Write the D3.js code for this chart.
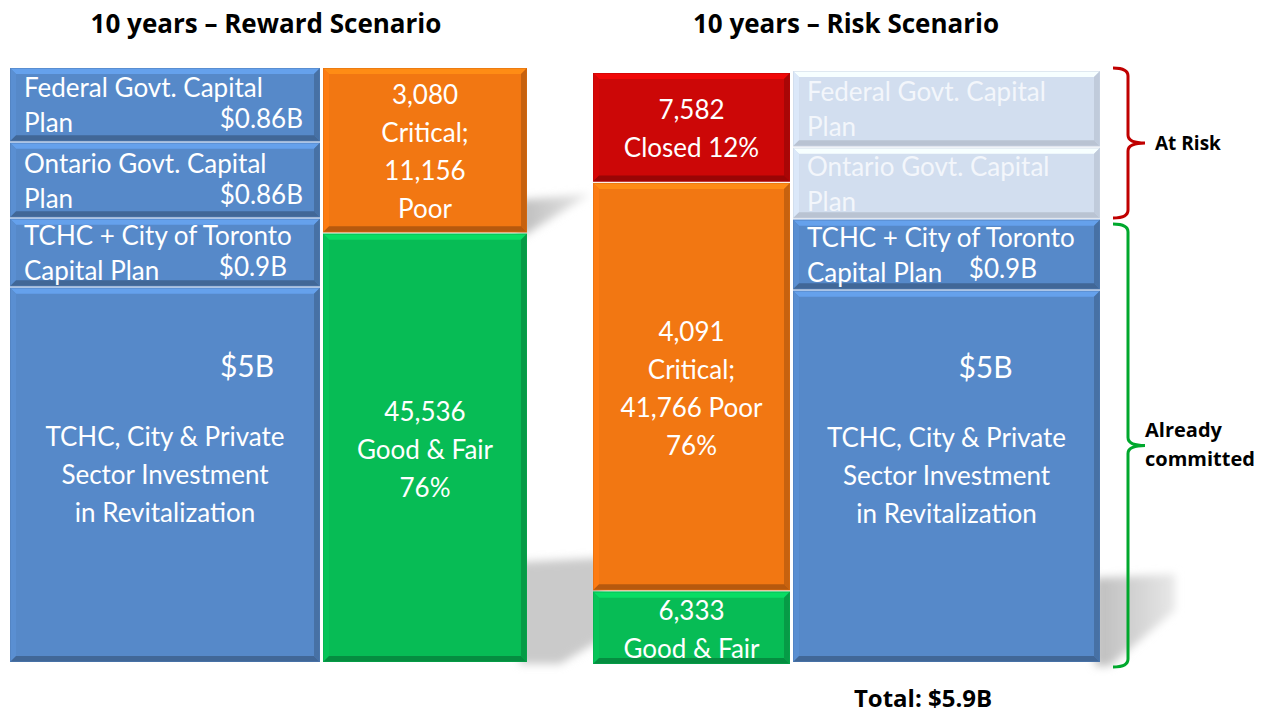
<!DOCTYPE html>
<html>
<head>
<meta charset="utf-8">
<script src="https://cdn.jsdelivr.net/npm/d3@7"></script>
<style>
  body { margin: 0; background: #fff; }
  svg text { font-family: Lato, "Open Sans", sans-serif; }
  svg text.bold { font-family: "Open Sans", Lato, sans-serif; font-weight: bold; }
</style>
</head>
<body>
<div id="chartContainer"></div>
<script>
// Block labels and the share of column height each block takes
const fundingLines = [
    ["Federal  Govt. Capital", "Plan"],
    ["Ontario Govt. Capital", "Plan"],
    ["TCHC + City of Toronto", "Capital Plan"],
    ["TCHC, City & Private", "Sector Investment", "in Revitalization"]
];
const rewardFundingValues = ["$0.86B", "$0.86B", "$0.9B", "$5B"];
const riskFundingValues = ["", "", "$0.9B", "$5B"];
const rewardFundingShare = [74, 76, 69, 375];
const riskFundingShare = [76, 72, 71, 372];
const riskFundingAtRisk = [true, true, false, false];

const rewardConditionLines = [
    ["3,080", "Critical;", "11,156", "Poor"],
    ["45,536", "Good & Fair", "76%"]
];
const rewardConditionShare = [165, 429];
const rewardConditionColors = ["#f27712", "#07bc55"];

const riskConditionLines = [
    ["7,582", "Closed 12%"],
    ["4,091", "Critical;", "41,766 Poor", "76%"],
    ["6,333", "Good & Fair"]
];
const riskConditionShare = [109, 408, 73];
const riskConditionColors = ["#cc0707", "#f27712", "#07bc55"];

const titles = ["10 years \u2013 Reward Scenario", "10 years \u2013 Risk Scenario"];
const braceLabels = [["At Risk"], ["Already", "committed"]];
const totalLabel = "Total: $5.9B";

const blue = "#5689c9";
const paleBlue = "#d2deef";

const W = 1269, H = 715;
const svg = d3.select("#chartContainer")
    .append("svg")
    .attr("width", W)
    .attr("height", H);

const defs = svg.append("defs");
defs.append("filter").attr("id", "soft")
    .attr("x", "-50%").attr("y", "-50%").attr("width", "200%").attr("height", "200%")
    .append("feGaussianBlur").attr("stdDeviation", 4);

// soft grey floor shadows behind the columns
const shadowGrad = defs.append("linearGradient").attr("id", "shadowGrad")
    .attr("x1", 0).attr("y1", 0).attr("x2", 1).attr("y2", 0);
shadowGrad.append("stop").attr("offset", 0).attr("stop-color", "#bdbdbd");
shadowGrad.append("stop").attr("offset", 1).attr("stop-color", "#e8e8e8");

const shadows = svg.append("g").attr("filter", "url(#soft)");
shadows.append("path")
    .attr("d", "M520,200 L590,194 L520,238 Z")
    .attr("fill", "url(#shadowGrad)");
shadows.append("path")
    .attr("d", "M520,562 L600,558 L600,640 L560,664 L520,664 Z")
    .attr("fill", "#cacaca");
shadows.append("path")
    .attr("d", "M1095,578 L1175,574 L1175,610 L1110,666 L1095,666 Z")
    .attr("fill", "url(#shadowGrad)");

// draw a bevelled block like the PowerPoint shapes
function bevelBlock(g, x, y, w, h, color, b, soft) {
    const c = d3.color(color);
    const k = soft ? 0.45 : 1;
    g.append("rect")
        .attr("x", x).attr("y", y).attr("width", w).attr("height", h)
        .attr("fill", color);
    const faces = [
        {pts: [[x, y], [x + w, y], [x + w - b, y + b], [x + b, y + b]], fill: c.brighter(0.45)},
        {pts: [[x, y], [x + b, y + b], [x + b, y + h - b], [x, y + h]], fill: c.brighter(0.12)},
        {pts: [[x + w, y], [x + w, y + h], [x + w - b, y + h - b], [x + w - b, y + b]], fill: c.darker(0.55 * k)},
        {pts: [[x, y + h], [x + w, y + h], [x + w - b, y + h - b], [x + b, y + h - b]], fill: c.darker(0.8 * k)}
    ];
    faces.forEach(f => {
        g.append("polygon")
            .attr("points", f.pts.map(p => p.join(",")).join(" "))
            .attr("fill", f.fill);
    });
    g.append("rect")
        .attr("x", x + 0.5).attr("y", y + 0.5).attr("width", w - 1).attr("height", h - 1)
        .attr("fill", "none")
        .attr("stroke", c.darker(0.3 * k))
        .attr("stroke-opacity", 0.5);
}

function stackScale(share, top, bottom) {
    return d3.scaleLinear().domain([0, d3.sum(share)]).range([top, bottom]);
}

function segments(share) {
    const cum = d3.cumsum(share);
    return share.map((s, i) => ({i: i, y0: cum[i] - s, y1: cum[i]}));
}

const gap = 1.5;
const fontSize = 26;

// funding column (blue blocks)
function drawFunding(x, w, top, bottom, share, values, pale, valueInsets, fiveBOffset) {
    const y = stackScale(share, top, bottom);
    const g = svg.append("g");
    segments(share).forEach(s => {
        const y0 = y(s.y0) + (s.i ? gap / 2 : 0);
        const y1 = y(s.y1) - (s.i < share.length - 1 ? gap / 2 : 0);
        const isPale = pale[s.i];
        bevelBlock(g, x, y0, w, y1 - y0, isPale ? paleBlue : blue, 6, isPale);
        const tc = isPale ? "rgba(255,255,255,0.75)" : "#fff";
        const lines = fundingLines[s.i];
        const mid = (y0 + y1) / 2;
        if (s.i < 3) {
            lines.forEach((t, k) => {
                g.append("text")
                    .attr("x", x + 14)
                    .attr("y", mid + (k - 0.5) * 35 + 10)
                    .attr("fill", tc)
                    .attr("font-size", fontSize)
                    .text(t);
            });
            if (values[s.i]) {
                g.append("text")
                    .attr("x", x + w - valueInsets[s.i])
                    .attr("y", mid + 0.5 * 35 + 6)
                    .attr("text-anchor", "end")
                    .attr("fill", tc)
                    .attr("font-size", fontSize)
                    .text(values[s.i]);
            }
        } else {
            const cx = x + w / 2;
            g.append("text")
                .attr("x", cx + fiveBOffset)
                .attr("y", mid - 110 + 12)
                .attr("text-anchor", "middle")
                .attr("fill", tc)
                .attr("font-size", fontSize + 4)
                .text(values[s.i]);
            lines.forEach((t, k) => {
                g.append("text")
                    .attr("x", cx)
                    .attr("y", mid + (k - 1) * 38 + 9)
                    .attr("text-anchor", "middle")
                    .attr("fill", tc)
                    .attr("font-size", fontSize)
                    .text(t);
            });
        }
    });
    return y;
}

// condition column (orange / green / red blocks)
function drawCondition(x, w, top, bottom, share, linesArr, colors) {
    const y = stackScale(share, top, bottom);
    const g = svg.append("g");
    segments(share).forEach(s => {
        const y0 = y(s.y0) + (s.i ? gap / 2 : 0);
        const y1 = y(s.y1) - (s.i < share.length - 1 ? gap / 2 : 0);
        bevelBlock(g, x, y0, w, y1 - y0, colors[s.i], 6, false);
        const lines = linesArr[s.i];
        const mid = (y0 + y1) / 2 + 1;
        lines.forEach((t, k) => {
            g.append("text")
                .attr("x", x + w / 2)
                .attr("y", mid + (k - (lines.length - 1) / 2) * 38 + 10)
                .attr("text-anchor", "middle")
                .attr("fill", "#fff")
                .attr("font-size", fontSize)
                .text(t);
        });
    });
}

drawFunding(10, 310, 68, 662, rewardFundingShare, rewardFundingValues,
    [false, false, false, false], [17, 17, 33, 0], 82);
drawCondition(323, 204, 68, 662, rewardConditionShare, rewardConditionLines, rewardConditionColors);

drawCondition(593, 197, 73, 664, riskConditionShare, riskConditionLines, riskConditionColors);
const yRisk = drawFunding(793, 307, 71, 662, riskFundingShare, riskFundingValues,
    riskFundingAtRisk, [0, 0, 63, 0], 39);

// titles
svg.selectAll(".title")
    .data(titles)
    .join("text")
    .attr("class", "title bold")
    .attr("x", (d, i) => i ? 846 : 266)
    .attr("y", 33)
    .attr("text-anchor", "middle")
    .attr("font-size", 26)
    .attr("fill", "#000")
    .text(d => d);

svg.append("text")
    .attr("class", "bold")
    .attr("x", 923)
    .attr("y", 707)
    .attr("text-anchor", "middle")
    .attr("font-size", 24)
    .text(totalLabel);

// braces on the right
function brace(y0, y1, color) {
    const x0 = 1113, sx = 1128, tip = 1145, r = 8;
    const m = (y0 + y1) / 2;
    const p = d3.path();
    p.moveTo(x0, y0);
    p.quadraticCurveTo(sx, y0, sx, y0 + r);
    p.lineTo(sx, m - r);
    p.quadraticCurveTo(sx, m, tip, m);
    p.quadraticCurveTo(sx, m, sx, m + r);
    p.lineTo(sx, y1 - r);
    p.quadraticCurveTo(sx, y1, x0, y1);
    svg.append("path")
        .attr("d", p.toString())
        .attr("fill", "none")
        .attr("stroke", color)
        .attr("stroke-width", 3);
    return m;
}

const riskCum = d3.cumsum(riskFundingShare);
const m1 = brace(yRisk(0) - 3, yRisk(riskCum[1]) - 1, "#c00000");
const m2 = brace(yRisk(riskCum[1]) + 5, yRisk(riskCum[3]) + 5, "#00a82d");

svg.append("text")
    .attr("class", "bold")
    .attr("x", 1155).attr("y", m1 + 7)
    .attr("font-size", 19)
    .text(braceLabels[0][0]);

braceLabels[1].forEach((t, k) => {
    svg.append("text")
        .attr("class", "bold")
        .attr("x", 1145).attr("y", m2 - 9 + k * 29)
        .attr("font-size", 20)
        .text(t);
});
</script>
</body>
</html>
